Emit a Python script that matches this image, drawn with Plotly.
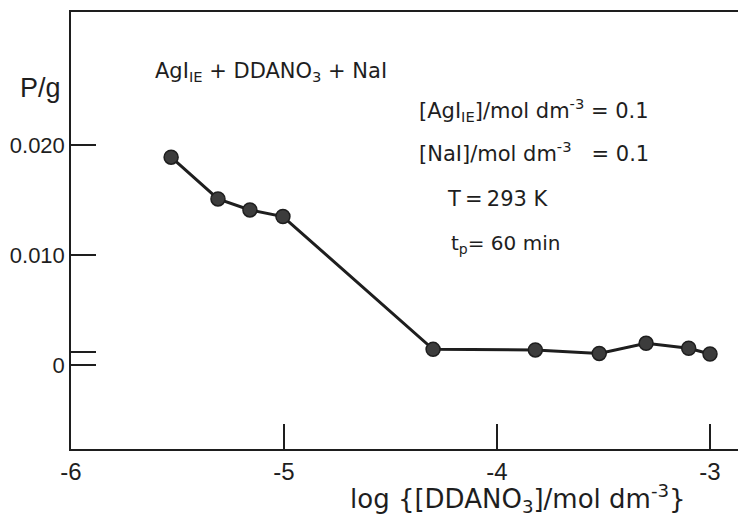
import plotly.graph_objects as go

log_ddano3 = [-5.53, -5.31, -5.16, -5.005, -4.30, -3.82, -3.52, -3.30, -3.10, -3.00]
p_g = [0.0189, 0.0151, 0.0141, 0.0135, 0.00142, 0.00137, 0.00105, 0.00197, 0.00152, 0.00100]

x_ticks = [-6, -5, -4, -3]
x_ticktext = ["-6", "-5", "-4", "-3"]
y_ticks = [0, 0.00118, 0.010, 0.020]
y_ticktext = ["0", "", "0.010", "0.020"]

ink = "#1e1e1e"
font = "DejaVu Sans"
tfont = "Liberation Sans"

# page body has an 8px margin; figure sized to fill the rest of the window
W, H = 738, 512
L, T, B = 63, 4, 71
PW, PH = W - L, H - T - B
OX, OY = 8, 8

fig = go.Figure()
fig.add_trace(go.Scatter(
    x=log_ddano3, y=p_g, mode="lines+markers",
    line=dict(color=ink, width=3),
    marker=dict(size=14, color="#3c3c3c", line=dict(color=ink, width=1.5)),
    showlegend=False, cliponaxis=False,
))

fig.update_layout(
    width=W, height=H,
    margin=dict(l=L, r=0, t=T, b=B, autoexpand=False),
    paper_bgcolor="white", plot_bgcolor="white",
    font=dict(family=font, color=ink, size=21),
    xaxis=dict(
        range=[-6.0, -6.0 + PW / 213.0], showgrid=False, zeroline=False,
        showline=True, linecolor=ink, linewidth=1.5, mirror=True,
        tickvals=x_ticks, ticktext=x_ticktext, ticks="inside",
        ticklen=25, tickwidth=1.5, tickcolor=ink, automargin=False,
        tickfont=dict(size=24, family=tfont, color=ink),
    ),
    yaxis=dict(
        range=[-0.00764, 0.0321], showgrid=False, zeroline=False,
        showline=True, linecolor=ink, linewidth=1.5, mirror=False,
        tickvals=y_ticks, ticktext=y_ticktext, ticks="inside",
        ticklen=25, tickwidth=1.5, tickcolor=ink, automargin=False,
        tickfont=dict(size=22, family=tfont, color=ink),
        ticklabelstandoff=0,
    ),
)

ann = [
    dict(text="P/g", x=40, y=88, size=27, xanchor="center", f=tfont),
    dict(text="log {[DDANO<sub>3</sub>]/mol dm<sup>-3</sup>}", x=518, y=498, size=26, xanchor="center", f=font),
    dict(text="AgI<sub>IE</sub> + DDANO<sub>3</sub> + NaI", x=153, y=72, size=21, xanchor="left", f=font),
    dict(text="[AgI<sub>IE</sub>]/mol dm<sup>-3</sup> = 0.1", x=417, y=110, size=21, xanchor="left", f=font),
    dict(text="[NaI]/mol dm<sup>-3</sup>   = 0.1", x=417, y=152, size=21, xanchor="left", f=font),
    dict(text="T\u2009=\u2009293 K", x=445, y=199, size=21, xanchor="left", f=font),
    dict(text="t<sub>p</sub>= 60 min", x=449, y=244, size=20, xanchor="left", f=font),
]
for a in ann:
    fig.add_annotation(
        text=a["text"], xref="paper", yref="paper",
        x=(a["x"] - OX - L) / PW, y=(H - B + OY - a["y"]) / PH,
        xanchor=a["xanchor"], yanchor="middle", showarrow=False,
        font=dict(size=a["size"], family=a["f"], color=ink),
    )

fig.write_html("out.html")
